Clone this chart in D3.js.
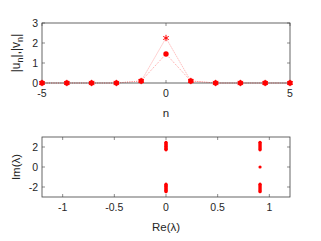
<!DOCTYPE html>
<html><head><meta charset="utf-8">
<script src="https://cdn.jsdelivr.net/npm/d3@7"></script>
<style>body{margin:0;background:#fff}text{font-family:"Liberation Sans",Arial,sans-serif}</style>
</head><body><svg id="c" width="321" height="241"></svg>
<script>
const nVals = [-5,-4,-3,-2,-1,0,1,2,3,4,5];
const uVals = [0,0,0,0,0.1,1.45,0.1,0,0,0,0];
const vVals = [0,0,0,0,0.1,2.25,0.1,0,0,0,0];
const topXTicks = [-5,0,5];
const topYTicks = [0,1,2,3];
const eigRe = [0,0,0,0,0,0,0,0,0,0,0, 0,0,0,0,0,0,0,0,0,0,0,
               0.91,0.91,0.91,0.91,0.91,0.91,0.91,0.91,0.91, 0.91,0.91,0.91,0.91,0.91,0.91,0.91,0.91,0.91, 0.91];
const eigIm = [1.72,1.78,1.85,1.92,2.0,2.08,2.16,2.24,2.32,2.4,2.47,
               -1.72,-1.78,-1.85,-1.92,-2.0,-2.08,-2.16,-2.24,-2.32,-2.4,-2.47,
               1.72,1.8,1.9,2.0,2.1,2.2,2.3,2.4,2.47,
               -1.72,-1.8,-1.9,-2.0,-2.1,-2.2,-2.3,-2.4,-2.47, 0];
const botXTicks = [-1,-0.5,0,0.5,1];
const botYTicks = [-2,0,2];

const svg = d3.select("#c");
const axisCol = "#404040", textCol = "#262626";
const L = 42, R = 290;

function frame(x, y, xt, yt, top, bot, xfmt) {
  const g = svg.append("g");
  const tl = 3;
  xt.forEach(t => {
    g.append("line").attr("x1", x(t)).attr("x2", x(t)).attr("y1", bot).attr("y2", bot - tl).attr("stroke", axisCol).attr("stroke-width", 0.6);
    g.append("line").attr("x1", x(t)).attr("x2", x(t)).attr("y1", top).attr("y2", top + tl).attr("stroke", axisCol).attr("stroke-width", 0.6);
    g.append("text").attr("x", x(t)).attr("y", bot + 14).attr("text-anchor", "middle").attr("font-size", 10.5).attr("fill", textCol).text(xfmt(t));
  });
  yt.forEach(t => {
    g.append("line").attr("x1", L).attr("x2", L + tl).attr("y1", y(t)).attr("y2", y(t)).attr("stroke", axisCol).attr("stroke-width", 0.6);
    g.append("line").attr("x1", R).attr("x2", R - tl).attr("y1", y(t)).attr("y2", y(t)).attr("stroke", axisCol).attr("stroke-width", 0.6);
    g.append("text").attr("x", L - 4).attr("y", y(t) + 3.8).attr("text-anchor", "end").attr("font-size", 10.5).attr("fill", textCol).text(t);
  });
  g.append("rect").attr("x", L).attr("y", top).attr("width", R - L).attr("height", bot - top)
    .attr("fill", "none").attr("stroke", axisCol).attr("stroke-width", 0.8);
}

// top plot
const x1 = d3.scaleLinear().domain([-5, 5]).range([L, R]);
const y1 = d3.scaleLinear().domain([0, 3]).range([83, 23]);
const gT = svg.append("g");
const line1 = d3.line().x((d, i) => x1(nVals[i])).y(d => y1(d));
[uVals, vVals].forEach(arr => {
  gT.append("path").attr("d", line1(arr)).attr("fill", "none").attr("stroke", "#ff8080")
    .attr("stroke-width", 0.8).attr("stroke-dasharray", "1,1.3");
});
frame(x1, y1, topXTicks, topYTicks, 23, 83, d => d);
const gM = svg.append("g");
const star = d3.symbol().type(d3.symbolAsterisk).size(28);
vVals.forEach((v, i) => {
  gM.append("path").attr("d", star()).attr("transform", `translate(${x1(nVals[i])},${y1(v)})`)
    .attr("stroke", "#ff0000").attr("stroke-width", 1).attr("fill", "none");
});
uVals.forEach((u, i) => {
  gM.append("circle").attr("cx", x1(nVals[i])).attr("cy", y1(u)).attr("r", 2.7).attr("fill", "#ff0000");
});
svg.append("text").attr("x", 166).attr("y", 117).attr("text-anchor", "middle").attr("font-size", 11.5).attr("fill", textCol).text("n");
const yl = svg.append("text").attr("transform", "translate(20,53) rotate(-90)").attr("text-anchor", "middle").attr("font-size", 12).attr("fill", textCol);
yl.append("tspan").text("|u");
yl.append("tspan").attr("font-size", 9).attr("dy", 3).text("n");
yl.append("tspan").attr("dy", -3).text("|,|v");
yl.append("tspan").attr("font-size", 9).attr("dy", 3).text("n");
yl.append("tspan").attr("dy", -3).text("|");

// bottom plot
const x2 = d3.scaleLinear().domain([-1.2, 1.2]).range([L, R]);
const y2 = d3.scaleLinear().domain([-3, 3]).range([197, 137]);
frame(x2, y2, botXTicks, botYTicks, 137, 197, d => d);
eigRe.forEach((r, i) => {
  svg.append("circle").attr("cx", x2(r)).attr("cy", y2(eigIm[i])).attr("r", 1.6).attr("fill", "#ff0000");
});
svg.append("text").attr("x", 166).attr("y", 231).attr("text-anchor", "middle").attr("font-size", 11.5).attr("fill", textCol).text("Re(λ)");
svg.append("text").attr("transform", "translate(20,167) rotate(-90)").attr("text-anchor", "middle").attr("font-size", 11.5).attr("fill", textCol).text("Im(λ)");
</script></body></html>
